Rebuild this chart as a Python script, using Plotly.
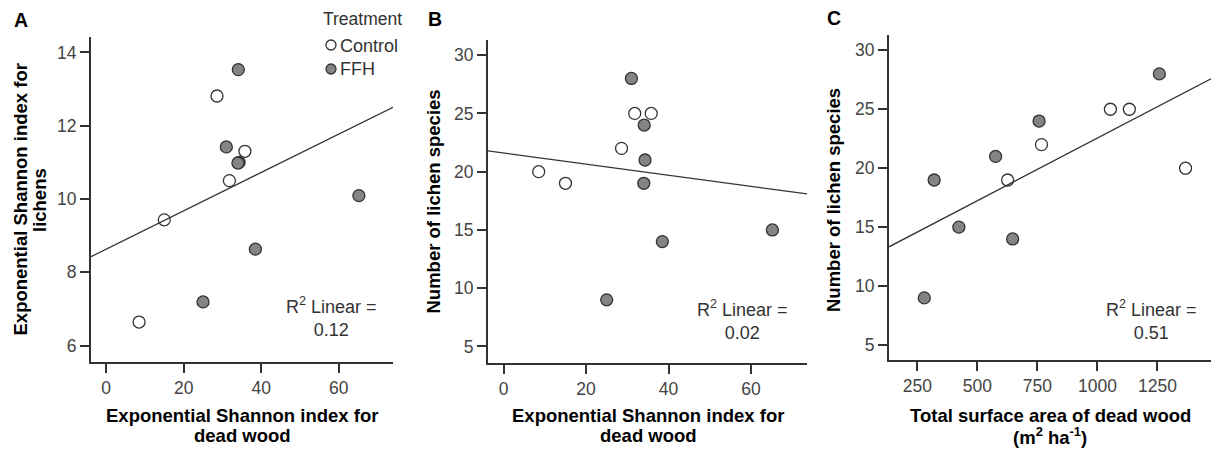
import numpy as np
import plotly.graph_objects as go

# ---- data ----
treatments = ["Control", "FFH"]
dw_shannon_ctrl = [8.5, 15.0, 28.6, 31.8, 35.8]
lichen_shannon_ctrl = [6.64, 9.43, 12.81, 10.50, 11.30]
species_ctrl = [20, 19, 22, 25, 25]
area_ctrl = [1367, 626, 767, 1054, 1133]

dw_shannon_ffh = [31.0, 34.1, 34.3, 34.0, 38.5, 65.2, 25.0]
lichen_shannon_ffh = [11.42, 13.53, 11.00, 10.98, 8.63, 10.09, 7.19]
species_ffh = [28, 24, 21, 19, 14, 15, 9]
area_ffh = [1258, 757, 576, 320, 647, 423, 279]

panel_letters = ["A", "B", "C"]
r2_labels = ["0.12", "0.02", "0.51"]
legend_title = "Treatment"
xticks_A = [0, 20, 40, 60]
yticks_A = [6, 8, 10, 12, 14]
xticks_B = [0, 20, 40, 60]
yticks_B = [5, 10, 15, 20, 25, 30]
xticks_C = [250, 500, 750, 1000, 1250]
yticks_C = [5, 10, 15, 20, 25, 30]
xtitle_A = ["Exponential Shannon index for", "dead wood"]
ytitle_A = ["Exponential Shannon index for", "lichens"]
xtitle_B = ["Exponential Shannon index for", "dead wood"]
ytitle_B = ["Number of lichen species"]
xtitle_C = ["Total surface area of dead wood", "(m<sup>2</sup> ha<sup>-1</sup>)"]
ytitle_C = ["Number of lichen species"]

W, H = 1211, 450
FONT = "Liberation Sans, Arial, sans-serif"
AX = "#333333"
FILL_FFH = "#848484"
FILLS = ["white", FILL_FFH]

def px(x):
    return x / W

def py(y):
    return 1 - y / H

panels = [
    dict(xa="x", ya="y", xs=(dw_shannon_ctrl, dw_shannon_ffh),
         ys=(lichen_shannon_ctrl, lichen_shannon_ffh),
         xr=[-3.9, 74.0], yr=[5.55, 14.42], xt=xticks_A, yt=yticks_A,
         dom_x=[px(91), px(393)], dom_y=[py(362), py(37)],
         xtitle=xtitle_A, ytitle=ytitle_A,
         xt_x=242, xt_y=[415.5, 435], yt_x=[19.5, 39], yt_y=200,
         letter_xy=(21, 20), r2_xy=(331, 317)),
    dict(xa="x2", ya="y2", xs=(dw_shannon_ctrl, dw_shannon_ffh),
         ys=(species_ctrl, species_ffh),
         xr=[-3.8, 73.6], yr=[3.58, 31.3], xt=xticks_B, yt=yticks_B,
         dom_x=[px(488), px(807)], dom_y=[py(363), py(40)],
         xtitle=xtitle_B, ytitle=ytitle_B,
         xt_x=648, xt_y=[415.5, 435], yt_x=[433], yt_y=201.5,
         letter_xy=(435, 19), r2_xy=(742, 320)),
    dict(xa="x3", ya="y3", xs=(area_ctrl, area_ffh),
         ys=(species_ctrl, species_ffh),
         xr=[132, 1473], yr=[3.73, 31.3], xt=xticks_C, yt=yticks_C,
         dom_x=[px(889), px(1211)], dom_y=[py(360), py(35)],
         xtitle=xtitle_C, ytitle=ytitle_C,
         xt_x=1050, xt_y=[415.5, 436], yt_x=[833], yt_y=200,
         letter_xy=(834, 18), r2_xy=(1151, 320)),
]

fig = go.Figure()
annotations = []
shapes = []
layout_axes = {}
title_font = dict(family=FONT, size=18.5, color="black", weight="bold")

for i, p in enumerate(panels):
    xc, xf = p["xs"]
    yc, yf = p["ys"]
    for name, xv, yv, fill in zip(treatments, (xc, xf), (yc, yf), FILLS):
        fig.add_trace(go.Scatter(
            x=xv, y=yv, xaxis=p["xa"], yaxis=p["ya"], mode="markers",
            name=name, legendgroup=name, showlegend=False,
            marker=dict(size=12, color=fill, line=dict(color=AX, width=1.3))))
    # linear fit across the whole x range
    allx = np.array(list(xc) + list(xf), dtype=float)
    ally = np.array(list(yc) + list(yf), dtype=float)
    slope, intercept = np.polyfit(allx, ally, 1)
    lx = np.array(p["xr"], dtype=float)
    fig.add_trace(go.Scatter(
        x=lx, y=slope * lx + intercept, xaxis=p["xa"], yaxis=p["ya"],
        mode="lines", showlegend=False, hoverinfo="skip",
        line=dict(color=AX, width=1.3)))

    n = "" if i == 0 else str(i + 1)
    common = dict(showline=True, linecolor=AX, linewidth=2, ticks="outside",
                  ticklen=9, tickwidth=2, tickcolor=AX, showgrid=False,
                  zeroline=False, mirror=False,
                  tickfont=dict(family=FONT, size=17.5, color="#444444"))
    layout_axes["xaxis" + n] = dict(
        common, domain=p["dom_x"], range=p["xr"], tickmode="array",
        tickvals=p["xt"], anchor="y" + n)
    layout_axes["yaxis" + n] = dict(
        common, domain=p["dom_y"], range=p["yr"], tickmode="array",
        tickvals=p["yt"], anchor="x" + n)

    # axis titles (tight two-line spacing like the original)
    for line, yy in zip(p["xtitle"], p["xt_y"]):
        annotations.append(dict(
            text=line, xref="paper", yref="paper", x=px(p["xt_x"]), y=py(yy),
            xanchor="center", yanchor="middle", showarrow=False,
            font=title_font))
    for line, xx in zip(p["ytitle"], p["yt_x"]):
        annotations.append(dict(
            text=line, xref="paper", yref="paper", x=px(xx), y=py(p["yt_y"]),
            xanchor="center", yanchor="middle", showarrow=False,
            textangle=-90, font=title_font))

    lx_, ly_ = p["letter_xy"]
    annotations.append(dict(
        text="<b>%s</b>" % panel_letters[i], xref="paper", yref="paper",
        x=px(lx_), y=py(ly_), xanchor="center", yanchor="middle",
        showarrow=False, font=dict(family=FONT, size=19.5, color="black")))
    rx, ry = p["r2_xy"]
    annotations.append(dict(
        text="R<sup>2</sup> Linear =<br>%s" % r2_labels[i], xref="paper",
        yref="paper", x=px(rx), y=py(ry), xanchor="center",
        yanchor="middle", align="center", showarrow=False,
        font=dict(family=FONT, size=18, color="#333333")))

# legend (drawn to match the original's compact layout)
annotations.append(dict(
    text=legend_title, xref="paper", yref="paper", x=px(321), y=py(19),
    xanchor="left", yanchor="middle", showarrow=False,
    font=dict(family=FONT, size=17.5, color="#333333")))
for name, fill, cy, ty in zip(treatments, FILLS, (45, 69), (46.5, 69.5)):
    shapes.append(dict(
        type="circle", xref="paper", yref="paper", xsizemode="pixel",
        ysizemode="pixel", xanchor=px(331), yanchor=py(cy),
        x0=-5, x1=5, y0=-5, y1=5, fillcolor=fill,
        line=dict(color=AX, width=1.3)))
    annotations.append(dict(
        text=name, xref="paper", yref="paper", x=px(338), y=py(ty),
        xanchor="left", yanchor="middle", showarrow=False,
        font=dict(family=FONT, size=18, color="#333333")))

fig.update_layout(
    width=W, height=H, margin=dict(l=0, r=0, t=0, b=0),
    paper_bgcolor="white", plot_bgcolor="white",
    font=dict(family=FONT, size=17, color="#333333"),
    showlegend=False,
    annotations=annotations,
    shapes=shapes,
    **layout_axes,
)

fig.write_html("out.html")
